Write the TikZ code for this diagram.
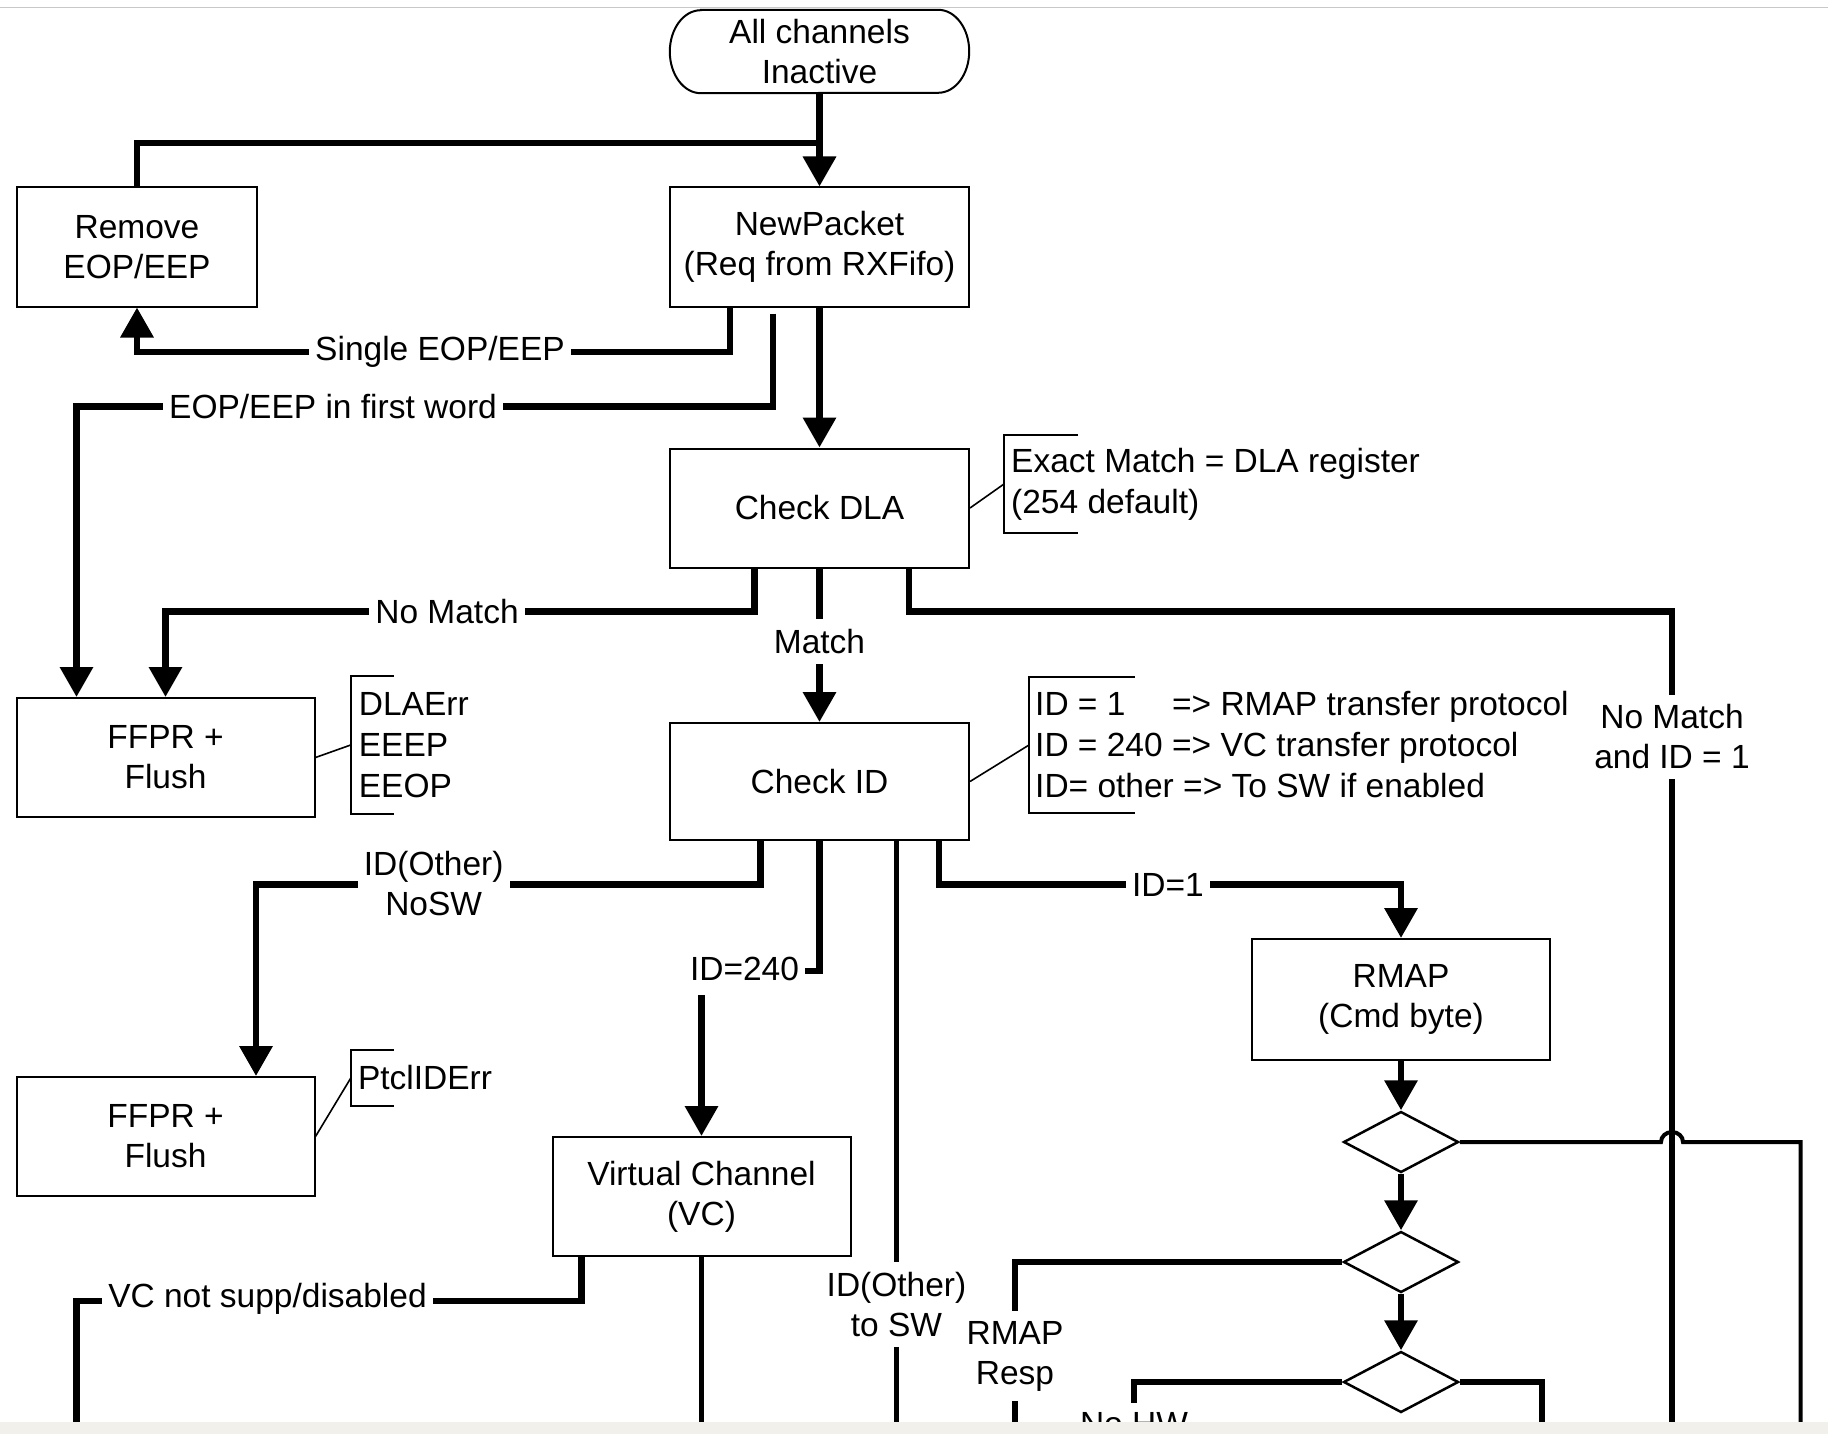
\documentclass[tikz,border=0pt]{standalone}
\usepackage{fontspec}
\setmainfont{Liberation Sans}
\usetikzlibrary{arrows.meta,shapes.geometric}
\newcommand\boxfont{\fontsize{33.5pt}{40pt}\selectfont}
\newcommand\annfont{\fontsize{33.5pt}{41pt}\selectfont}
\definecolor{bandc}{RGB}{241,240,235}
\definecolor{toplinec}{RGB}{200,200,200}
\begin{document}
\begin{tikzpicture}[x=1pt,y=-1pt,
  box/.style={draw, line width=2pt, minimum width=298pt, minimum height=119pt, inner sep=0pt, align=center, font=\boxfont},
  dia/.style={diamond, draw, line width=2.5pt, minimum width=115pt, minimum height=61pt, inner sep=0pt},
  lab/.style={fill=white, inner xsep=6pt, inner ysep=10pt, align=center, font=\boxfont},
  ann/.style={anchor=west, inner xsep=7pt, inner ysep=0pt, align=left, font=\annfont},
  brk/.style={line width=2pt},
  anc/.style={line width=1.6pt},
  thk/.style={line width=6.5pt},
  med/.style={line width=5pt},
  thn/.style={line width=4pt},
  arr/.style={-{Triangle[length=30pt,width=32pt]}}
]
\useasboundingbox (0,0) rectangle (1828,1434);
\fill[white] (0,0) rectangle (1828,1434);
\draw[toplinec, line width=1.5pt] (0,7.3) -- (1828,7.3);

% nodes
\node[minimum width=299pt, minimum height=83pt, inner sep=0pt, align=center, font=\boxfont] (term) at (819.5,51.5) {All channels\\Inactive};
\draw[line width=2pt] ([xshift=31pt]term.north west) -- ([xshift=-31pt]term.north east)
  arc[start angle=90,end angle=-90,x radius=31pt,y radius=41.5pt]
  -- ([xshift=31pt]term.south west)
  arc[start angle=270,end angle=90,x radius=31pt,y radius=41.5pt] -- cycle;

\node[box, minimum width=240pt] (rem) at (137,247) {Remove\\EOP/EEP};
\node[box, minimum width=299pt] (np) at (819.5,247) {NewPacket\\(Req from RXFifo)};
\node[box, minimum width=299pt] (dla) at (819.5,508) {Check DLA};
\node[box, minimum width=299pt, minimum height=117pt] (cid) at (819.5,781.5) {Check ID};
\node[box] (ff1) at (165.5,757.5) {FFPR +\\Flush};
\node[box] (ff2) at (165.5,1136.5) {FFPR +\\Flush};
\node[box] (vc) at (701.5,1196.5) {Virtual Channel\\(VC)};
\node[box, minimum height=121pt] (rmap) at (1401,999.5) {RMAP\\(Cmd byte)};
\node[dia] (d1) at (1401,1142) {};
\node[dia] (d2) at (1401,1262) {};
\node[dia] (d3) at (1401,1382) {};

% annotations
\node[ann, minimum height=98pt] (a1) at (1004,484) {Exact Match = DLA register\\(254 default)};
\draw[brk] ([xshift=74pt]a1.north west) -- (a1.north west) -- (a1.south west) -- ++(74,0);
\draw[anc] (dla.east) -- (a1.west);

\node[ann, inner xsep=6pt, minimum height=136pt] (a2) at (1029,745) {ID = 1\hphantom{40} => RMAP transfer protocol\\ID = 240 => VC transfer protocol\\ID= other => To SW if enabled};
\draw[brk] ([xshift=106pt]a2.north west) -- (a2.north west) -- (a2.south west) -- ++(106,0);
\draw[anc] (cid.east) -- (a2.west);

\node[ann, inner xsep=8pt, minimum height=138pt] (a3) at (350.7,745) {DLAErr\\EEEP\\EEOP};
\draw[brk] ([xshift=43pt]a3.north west) -- (a3.north west) -- (a3.south west) -- ++(43,0);
\draw[anc] (ff1.east) -- (a3.west);

\node[ann, minimum height=56pt] (a4) at (350.8,1078) {PtclIDErr};
\draw[brk] ([xshift=43pt]a4.north west) -- (a4.north west) -- (a4.south west) -- ++(43,0);
\draw[anc] (ff2.east) -- (a4.west);

% helper coordinates
\coordinate (j1) at (819.5,143);
\coordinate (c1) at (76.5,406.7);
\coordinate (c2) at (165.5,611.7);
\coordinate (c3) at (1672,611.7);
\coordinate (c4) at (256,884.6);
\coordinate (c5) at (701.5,971);
\coordinate (c6) at (1401,884.6);
\coordinate (c7) at (76.5,1301);
\coordinate (b1) at (1661,1142);
\coordinate (e1) at (1672,1434);
\coordinate (e2) at (896.5,1434);
\coordinate (e3) at (76.5,1434);
\coordinate (e4) at (701.5,1434);
\coordinate (e5) at (1800.7,1434);
\coordinate (e6) at (1015,1434);
\coordinate (e7) at (1134,1434);
\coordinate (e8) at (1542,1434);

% connectors
\draw[thk,arr] (term.south) -- (np.north);
\draw[thk] (rem.north) |- (j1);
\draw[thk,arr] ([xshift=-89.5pt]np.south) |- ([yshift=-44.7pt]rem.south) -- (rem.south);
\draw[thk,arr] ([xshift=-46.5pt,yshift=-6pt]np.south) |- (c1) -- ([xshift=-89pt]ff1.north);
\draw[thk,arr] (np.south) -- (dla.north);
\draw[thk,arr] ([xshift=-65pt]dla.south) |- (c2) -- (ff1.north);
\draw[thk,arr] (dla.south) -- (cid.north);
\draw[thn] (d1.east) -- (b1) arc[start angle=180,end angle=0,x radius=11pt,y radius=10pt] -| (e5);
\draw[thk] ([xshift=89.5pt]dla.south) |- (c3) -- (e1);
\draw[thk,arr] ([xshift=-59pt]cid.south) |- (c4) -- ([xshift=90.5pt]ff2.north);
\draw[thk,arr] (cid.south) |- (c5) -- (vc.north);
\draw[med] ([xshift=77pt]cid.south) -- (e2);
\draw[thk,arr] ([xshift=119.5pt]cid.south) |- (c6) -- (rmap.north);
\draw[thk] ([xshift=-120pt]vc.south) |- (c7) -- (e3);
\draw[med] (vc.south) -- (e4);
\draw[thk,arr] (rmap.south) -- (d1.north);
\draw[thk,arr] (d1.south) -- (d2.north);
\draw[thk,arr] (d2.south) -- (d3.north);
\draw[thk] (d2.west) -| (e6);
\draw[thk] (d3.west) -| (e7);
\draw[thk] (d3.east) -| (e8);

% labels
\node[lab] (l1) at (440,351.7) {Single EOP/EEP};
\node[lab] (l2) at (333,406.7) {EOP/EEP in first word};
\node[lab] (l3) at (447,611.7) {No Match};
\node[lab] (l4) at (819.5,641.7) {Match};
\node[lab] (l5) at (1672,737) {No Match\\and ID = 1};
\node[lab] (l6) at (433.7,884) {ID(Other)\\NoSW};
\node[lab, inner ysep=14pt] (l7) at (744.5,969) {ID=240};
\node[lab] (l8) at (1168,884.6) {ID=1};
\node[lab] (l9) at (896.5,1304.5) {ID(Other)\\to SW};
\node[lab] (l10) at (267.5,1298.7) {VC not supp/disabled};
\node[lab] (l11) at (1015,1356) {RMAP\\Resp};
\node[lab] (l12) at (1134,1424.2) {No HW};

% bottom band
\fill[bandc] (0,1422) rectangle (1828,1434);
\end{tikzpicture}
\end{document}
